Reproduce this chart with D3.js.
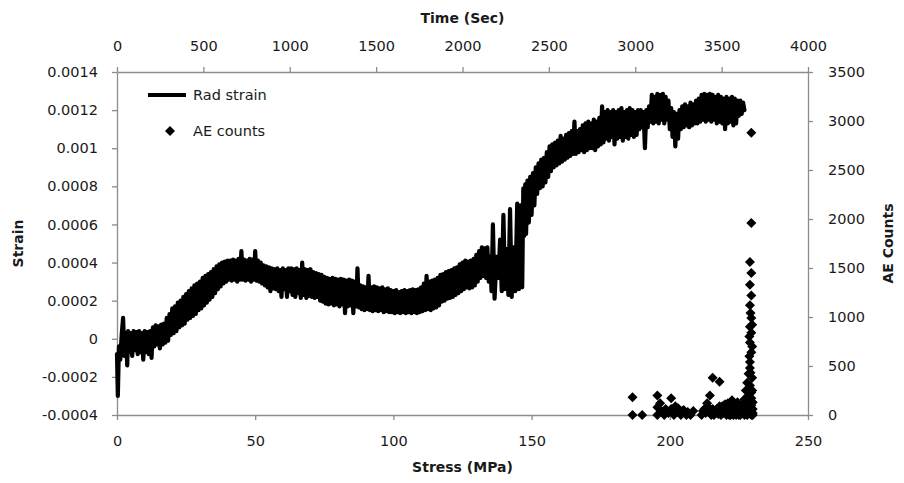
<!DOCTYPE html>
<html>
<head>
  <meta charset="utf-8" />
  <title>Strain and AE counts vs stress</title>
  <script src="https://d3js.org/d3.v7.min.js"></script>
  <style>
    body { margin: 0; background: #fff; }
    svg text { font-family: "DejaVu Sans", sans-serif; fill: #1a1a1a; }
    .tick-label { font-size: 14.5px; }
    .axis-title { font-size: 14px; font-weight: bold; }
  </style>
</head>
<body>
<svg id="chart" width="904" height="483"></svg>

<script>
  // Tick labels
  const stressTicks = [0, 50, 100, 150, 200, 250];
  const timeTicks = [0, 500, 1000, 1500, 2000, 2500, 3000, 3500, 4000];
  const strainTicks = [-0.0004, -0.0002, 0, 0.0002, 0.0004, 0.0006, 0.0008, 0.001, 0.0012, 0.0014];
  const strainTickLabels = ["-0.0004", "-0.0002", "0", "0.0002", "0.0004", "0.0006", "0.0008", "0.001", "0.0012", "0.0014"];
  const aeTicks = [0, 500, 1000, 1500, 2000, 2500, 3000, 3500];

  // Rad strain: [stress MPa, microstrain]
  const radStrain = [
    [0,-80],[0.3,-300],[0.7,-40],[1.2,-110],[1.7,20],[2.2,110],[2.7,-90],[3.2,30],[3.7,-140],
    [4,40],[4.5,-70],[5,30],[5.5,-90],[6,40],[6.5,-60],[7,35],[7.5,-80],[8,40],[8.5,-70],[9,30],[9.5,-110],
    [10,40],[10.5,-70],[11,35],[11.5,-80],[12,40],[12.5,-100],[13,60],[13.5,-40],[14,70],[14.5,-30],
    [15,65],[15.5,-50],[16,75],[16.5,-30],[17,80],[17.5,-20],[18,110],[18.5,-10],[19,130],[19.5,20],
    [20,160],[20.5,30],[21,170],[21.5,40],[22,190],[22.5,60],[23,200],[23.5,70],[24,220],[24.5,80],
    [25,235],[25.5,100],[26,250],[26.5,110],[27,265],[27.5,120],[28,280],[28.5,130],[29,290],[29.5,150],
    [30,300],[30.5,160],[31,320],[31.5,175],[32,330],[32.5,190],[33,340],[33.5,205],[34,350],[34.5,220],
    [35,365],[35.5,240],[36,380],[36.5,260],[37,390],[37.5,275],[38,400],[38.5,290],[39,405],[39.5,300],
    [40,410],[40.5,310],[41,410],[41.5,305],[42,415],[42.5,310],[43,410],[43.5,300],[44,420],[44.5,310],
    [45,460],[45.5,310],[46,415],[46.5,305],[47,410],[47.5,310],[48,420],[48.5,300],[49,415],[49.5,310],
    [50,460],[50.5,305],[51,410],[51.5,300],[52,400],[52.5,290],[53,385],[53.5,280],[54,380],[54.5,270],
    [55,375],[55.5,250],[56,370],[56.5,265],[57,365],[57.5,260],[58,370],[58.5,250],[59,360],[59.5,220],
    [60,370],[60.5,260],[61,360],[61.5,220],[62,370],[62.5,250],[63,370],[63.5,230],[64,365],[64.5,220],
    [65,370],[65.5,240],[66,360],[66.5,215],[67,400],[67.5,230],[68,365],[68.5,215],[69,360],[69.5,225],
    [70,365],[70.5,220],[71,350],[71.5,215],[72,345],[72.5,220],[73,340],[73.5,200],[74,335],[74.5,195],
    [75,325],[75.5,185],[76,320],[76.5,180],[77,315],[77.5,185],[78,320],[78.5,175],[79,315],[79.5,180],
    [80,310],[80.5,170],[81,315],[81.5,180],[82,310],[82.5,135],[83,305],[83.5,170],[84,310],[84.5,175],
    [85,305],[85.5,135],[86,300],[86.5,170],[87,370],[87.5,165],[88,280],[88.5,155],[89,275],[89.5,150],
    [90,270],[90.5,155],[91,330],[91.5,150],[92,270],[92.5,145],[93,275],[93.5,150],[94,270],[94.5,145],
    [95,265],[95.5,150],[96,270],[96.5,140],[97,260],[97.5,145],[98,265],[98.5,140],[99,255],[99.5,140],
    [100,250],[100.5,135],[101,255],[101.5,140],[102,245],[102.5,135],[103,250],[103.5,140],[104,255],[104.5,135],
    [105,250],[105.5,140],[106,255],[106.5,135],[107,260],[107.5,140],[108,255],[108.5,135],[109,260],[109.5,140],
    [110,270],[110.5,145],[111,290],[111.5,150],[112,330],[112.5,155],[113,300],[113.5,150],[114,305],[114.5,160],
    [115,310],[115.5,165],[116,320],[116.5,175],[117,335],[117.5,195],[118,340],[118.5,200],[119,350],[119.5,210],
    [120,355],[120.5,215],[121,360],[121.5,220],[122,370],[122.5,230],[123,375],[123.5,240],[124,390],[124.5,250],
    [125,400],[125.5,260],[126,410],[126.5,270],[127,405],[127.5,265],[128,410],[128.5,270],[129,420],[129.5,280],
    [130,440],[130.5,300],[131,460],[131.5,320],[132,480],[132.5,330],[133,475],[133.5,320],[134,480],[134.5,300],
    [135,430],[135.5,250],[136,600],[136.6,210],[137.3,430],[138,320],[138.6,520],[139.2,250],[139.8,650],[140.4,260],
    [141,470],[141.6,230],[142.2,680],[142.8,220],[143.5,480],[144.1,250],[144.8,710],[145.4,260],[146,700],[146.6,270],
    [147,790],[147.3,540],[147.7,810],[148,550],[148.5,830],[149,610],
    [149.5,850],[150,650],[150.5,870],[151,700],[151.5,900],[152,760],[152.5,920],[153,790],[153.5,940],[154,800],
    [154.5,950],[155,820],[155.5,980],[156,850],[156.5,1010],[157,880],[157.5,1020],[158,900],[158.5,1030],[159,910],
    [159.5,1040],[160,920],[160.5,1065],[161,930],[161.5,1050],[162,940],[162.5,1070],[163,950],[163.5,1080],[164,960],
    [164.5,1090],[165,970],[165.5,1140],[166,970],[166.5,1090],[167,980],[167.5,1100],[168,990],[168.5,1120],[169,980],
    [169.5,1130],[170,990],[170.5,1140],[171,1000],[171.5,1130],[172,1000],[172.5,1150],[173,990],[173.5,1140],[174,1010],
    [174.5,1160],[175,1020],[175.5,1220],[176,1030],[176.5,1190],[177,1050],[177.5,1200],[178,1040],[178.5,1190],[179,1060],
    [179.5,1200],[180,1020],[180.5,1190],[181,1050],[181.5,1200],[182,1060],[182.5,1210],[183,1040],[183.5,1190],[184,1060],
    [184.5,1200],[185,1050],[185.5,1210],[186,1070],[186.5,1200],[187,1060],[187.5,1190],[188,1070],[188.5,1200],[189,1100],
    [189.5,1200],[190,1110],[190.5,1190],[191,1000],[191.5,1200],[192,1110],[192.5,1220],[193,1140],[193.5,1280],[194,1130],
    [194.5,1270],[195,1140],[195.5,1285],[196,1130],[196.5,1280],[197,1150],[197.5,1285],[198,1130],[198.5,1270],[199,1150],
    [199.5,1250],[200,1100],[200.5,1210],[201,1060],[201.5,1190],[202,1010],[202.5,1180],[203,1050],[203.5,1200],[204,1100],
    [204.5,1220],[205,1110],[205.5,1230],[206,1120],[206.5,1220],[207,1110],[207.5,1240],[208,1120],[208.5,1230],[209,1130],
    [209.5,1250],[210,1130],[210.5,1260],[211,1140],[211.5,1280],[212,1150],[212.5,1285],[213,1140],[213.5,1280],[214,1150],
    [214.5,1285],[215,1140],[215.5,1280],[216,1150],[216.5,1270],[217,1130],[217.5,1280],[218,1140],[218.5,1270],[219,1130],
    [219.5,1260],[220,1100],[220.5,1270],[221,1130],[221.5,1260],[222,1140],[222.5,1270],[223,1120],[223.5,1260],[224,1130],
    [224.5,1250],[225,1170],[225.5,1250],[226,1180],[226.5,1240],[227,1200]
  ];

  // AE counts: [stress MPa, counts]
  const aeCounts = [
    [186.5,180],[186.5,0],[190,0],[195.5,200],[195.5,80],[195.5,0],[196.5,120],[197,40],[198,0],[198.5,60],
    [200.5,170],[200.5,60],[199.5,20],[201.5,0],[202,90],[202.5,30],[203,70],[204,0],[204.5,40],[205,50],
    [206,0],[206.5,30],[207.5,0],[208.5,40],
    [211.5,0],[212,40],[212.5,60],[213,20],[213.5,120],[214,80],[214.5,200],[214.5,30],[215,0],[215.5,380],
    [215.5,60],[216,0],[216.5,30],[217,60],[217.5,10],[218,340],[218,90],[218.5,0],[218.5,40],
    [219,90],[219.5,20],[220,30],[220,110],[220.5,0],[220.5,60],[221,120],[221,20],[221.5,60],[221.5,0],
    [222,0],[222,90],[222.5,150],[222.5,30],[223,40],[223,0],[223.5,90],[223.5,10],[224,0],[224,60],
    [224.5,130],[224.5,20],[225,50],[225,0],[225.5,0],[225.5,80],[226,100],[226,20],[226.5,30],[226.5,60],
    [227,0],[227,160],[227,90],[227.5,250],[227.5,60],[227.5,10],[228,0],[228,50],
    [228,330],[228,120],[228.5,420],[228.5,200],[228.5,30],[228.5,90],
    [229,480],[229,540],[229.5,640],[229,740],[229.5,840],[229,900],[229.5,990],[229,1120],[229.5,1220],
    [229,1330],[229.5,1450],[229,1560],[229.5,1960],[229.5,2880],[229.5,0],[229.5,100],[229.5,170],[229.5,230],
    [229,300],[230,60],[230,0],[229.8,380],[230,130],[228.8,600],[229.8,700],[228.8,800],[229.8,920],[229.2,1040],
    [229,40],[229,150],[229.8,250],[229.2,430],[230,20]
  ];

  const margin = { left: 117, right: 96, top: 72, bottom: 68 };
  const W = 904, H = 483;
  const x0 = margin.left, x1 = W - margin.right;
  const y0 = H - margin.bottom, y1 = margin.top;

  const svg = d3.select('#chart');

  const xStress = d3.scaleLinear().domain([0, 250]).range([x0, x1]);
  const xTime = d3.scaleLinear().domain([0, 4000]).range([x0, x1]);
  const yStrain = d3.scaleLinear().domain([-0.0004, 0.0014]).range([y0, y1]);
  const yAE = d3.scaleLinear().domain([0, 3500]).range([y0, y1]);

  const axisColor = '#8c8c8c';
  const plain = d3.format('d');

  function styleAxis(g) {
    g.select('.domain').attr('stroke', axisColor).attr('stroke-width', 1.3).attr('fill', 'none');
    g.selectAll('.tick line').attr('stroke', axisColor).attr('stroke-width', 1.3);
    g.selectAll('.tick text').attr('class', 'tick-label').attr('fill', '#1a1a1a');
  }

  // bottom axis (stress)
  svg.append('g')
    .attr('transform', `translate(0,${y0})`)
    .call(d3.axisBottom(xStress).tickValues(stressTicks).tickFormat(plain)
      .tickSize(5).tickSizeOuter(0).tickPadding(16))
    .call(styleAxis);

  // top axis (time)
  svg.append('g')
    .attr('transform', `translate(0,${y1})`)
    .call(d3.axisTop(xTime).tickValues(timeTicks).tickFormat(plain)
      .tickSize(5).tickSizeOuter(0).tickPadding(16))
    .call(styleAxis);

  // left axis (strain)
  svg.append('g')
    .attr('transform', `translate(${x0},0)`)
    .call(d3.axisLeft(yStrain).tickValues(strainTicks).tickSize(5).tickSizeOuter(0).tickPadding(14)
      .tickFormat((d, i) => strainTickLabels[i]))
    .call(styleAxis);

  // right axis (AE counts)
  svg.append('g')
    .attr('transform', `translate(${x1},0)`)
    .call(d3.axisRight(yAE).tickValues(aeTicks).tickFormat(plain)
      .tickSize(5).tickSizeOuter(0).tickPadding(15))
    .call(styleAxis);

  // rad strain line
  const line = d3.line()
    .x(d => xStress(d[0]))
    .y(d => yStrain(d[1] * 1e-6));

  svg.append('path')
    .datum(radStrain)
    .attr('d', line)
    .attr('fill', 'none')
    .attr('stroke', '#000')
    .attr('stroke-width', 4.2)
    .attr('stroke-linejoin', 'round')
    .attr('stroke-linecap', 'round');

  // AE counts as diamonds
  const diamond = d3.symbol().type(d3.symbolSquare).size(50);
  svg.append('g').selectAll('path')
    .data(aeCounts)
    .join('path')
    .attr('d', diamond)
    .attr('fill', '#000')
    .attr('transform', d => `translate(${xStress(d[0])},${yAE(d[1])}) rotate(45)`);

  // axis titles
  svg.append('text').attr('class', 'axis-title')
    .attr('x', (x0 + x1) / 2).attr('y', 23).attr('text-anchor', 'middle')
    .text('Time (Sec)');
  svg.append('text').attr('class', 'axis-title')
    .attr('x', (x0 + x1) / 2).attr('y', 472).attr('text-anchor', 'middle')
    .text('Stress (MPa)');
  svg.append('text').attr('class', 'axis-title')
    .attr('transform', `translate(23,${(y0 + y1) / 2}) rotate(-90)`)
    .attr('text-anchor', 'middle')
    .text('Strain');
  svg.append('text').attr('class', 'axis-title')
    .attr('transform', `translate(893,${(y0 + y1) / 2}) rotate(-90)`)
    .attr('text-anchor', 'middle')
    .text('AE Counts');

  // legend
  const legend = svg.append('g').attr('transform', 'translate(148,95)');
  legend.append('line')
    .attr('x1', 0).attr('x2', 38).attr('y1', 0).attr('y2', 0)
    .attr('stroke', '#000').attr('stroke-width', 4);
  legend.append('text').attr('class', 'tick-label')
    .attr('x', 45).attr('y', 0).attr('dy', '0.35em')
    .text('Rad strain');
  legend.append('path')
    .attr('d', diamond)
    .attr('fill', '#000')
    .attr('transform', 'translate(22,36) rotate(45)');
  legend.append('text').attr('class', 'tick-label')
    .attr('x', 45).attr('y', 36).attr('dy', '0.35em')
    .text('AE counts');
</script>
</body>
</html>
